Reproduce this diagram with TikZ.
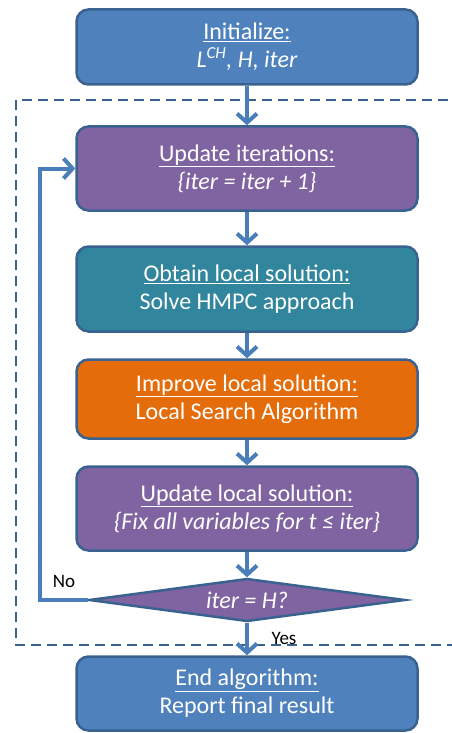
\documentclass[tikz,border=0pt]{standalone}
\usepackage{fontspec}
\setmainfont{Carlito}
\usetikzlibrary{arrows.meta,shapes.geometric}

\definecolor{edgeblue}{HTML}{3A6291}
\definecolor{flowblue}{HTML}{4A7EBB}
\definecolor{fillblue}{HTML}{4F81BD}
\definecolor{fillpurple}{HTML}{8064A2}
\definecolor{fillteal}{HTML}{31859C}
\definecolor{fillorange}{HTML}{E46C0A}

\tikzset{
  stepbox/.style={draw=edgeblue, line width=2.5pt, rounded corners=12pt,
    minimum width=341pt, text=white, align=center,
    font=\fontsize{24}{28}\selectfont},
  decbox/.style={diamond, draw=edgeblue, line width=2.5pt, fill=fillpurple,
    aspect=7, inner sep=0pt, minimum width=316pt, minimum height=43pt,
    text=white, font=\fontsize{24}{28}\selectfont\itshape},
  flow/.style={draw=flowblue, line width=4pt,
    -{Straight Barb[length=9pt, width=20pt, line width=4pt]}},
  loopframe/.style={draw=edgeblue, line width=2.2pt, dash pattern=on 10pt off 6pt},
  lbl/.style={text=black, font=\fontsize{19}{22}\selectfont}
}

\begin{document}
\begin{tikzpicture}[x=1pt, y=-1pt]
  \useasboundingbox (0,0) rectangle (452,733);

  % loop region of the iterative scheme
  \draw[loopframe] (480,100) -- (16,100) -- (16,645) -- (480,645);

  % process steps
  \node[stepbox, fill=fillblue, minimum height=75pt] (init) at (247,47)
    {\underline{Initialize:}\\ \textit{L\textsuperscript{CH}, H, iter}};
  \node[stepbox, fill=fillpurple, minimum height=84pt] (upd) at (247,168.5)
    {\underline{Update iterations:}\\ \textit{\{iter = iter + 1\}}};
  \node[stepbox, fill=fillteal, minimum height=85pt] (obt) at (247,289)
    {\underline{Obtain local solution:}\\ Solve HMPC approach};
  \node[stepbox, fill=fillorange, minimum height=79pt] (imp) at (247,399)
    {\underline{Improve local solution:}\\ Local Search Algorithm};
  \node[stepbox, fill=fillpurple, minimum height=84pt] (fix) at (247,508.5)
    {\underline{Update local solution:}\\ \textit{\{Fix all variables for t ≤ iter\}}};
  \node[decbox] (dec) at (247,600) {iter = H?};
  \node[stepbox, fill=fillblue, minimum height=74pt] (fin) at (247,693.5)
    {\underline{End algorithm:}\\ Report final result};

  % connectors
  \draw[flow] (init) -- (upd);
  \draw[flow] (upd) -- (obt);
  \draw[flow] (obt) -- (imp);
  \draw[flow] (imp) -- (fix);
  \draw[flow] (fix) -- (dec);
  \draw[flow] (dec) -- (fin);
  \coordinate (back) at (40,600);
  \draw[flow] (dec.west) -- (back) |- (upd.west);

  % branch labels
  \node[lbl] (no) at (64,581) {No};
  \node[lbl] (yes) at (284,638) {Yes};
\end{tikzpicture}
\end{document}
